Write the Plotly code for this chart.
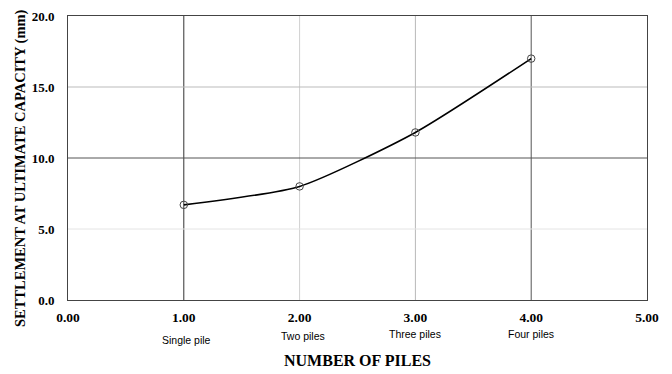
import plotly.graph_objects as go

# Settlement at ultimate capacity for pile groups
num_piles = [1, 2, 3, 4]
settlement_mm = [6.7, 8.0, 11.8, 17.0]
group_names = ["Single pile", "Two piles", "Three piles", "Four piles"]

x_ticks = [0, 1, 2, 3, 4, 5]
y_ticks = [0, 5, 10, 15, 20]

serif_bold = "Liberation Serif"

fig = go.Figure()

fig.add_trace(go.Scatter(
    x=num_piles, y=settlement_mm,
    mode="lines+markers",
    line=dict(color="black", width=1.6, shape="spline", smoothing=0.6),
    marker=dict(symbol="circle-open", size=7.5, color="#444444", line=dict(width=1)),
    showlegend=False,
    hoverinfo="skip",
))

# grid lines with the varying weights of the original sheet
v_grid = {1: "#333333", 2: "#d0d0d0", 3: "#b8b8b8", 4: "#555555"}
h_grid = {5: "#e4e4e4", 10: "#555555", 15: "#bbbbbb"}
shapes = []
for xv, c in v_grid.items():
    shapes.append(dict(type="line", xref="x", yref="y", x0=xv, x1=xv, y0=0, y1=20,
                       line=dict(color=c, width=1), layer="below"))
for yv, c in h_grid.items():
    shapes.append(dict(type="line", xref="x", yref="y", x0=0, x1=5, y0=yv, y1=yv,
                       line=dict(color=c, width=1), layer="below"))

# group names staggered under the tick labels (paper fraction, pixel shift)
label_y = [-0.141, -0.127, -0.121, -0.12]
label_dx = [3, 3, 0, 0]
annotations = []
for xv, name, ly, dx in zip(num_piles, group_names, label_y, label_dx):
    annotations.append(dict(x=xv, y=ly, xref="x", yref="paper", text=name, showarrow=False,
                            yanchor="middle", xshift=dx,
                            font=dict(family="Liberation Sans", size=10.5, color="black")))

annotations.append(dict(
    x=-0.081, y=0.465, xref="paper", yref="paper", textangle=-90,
    text="<b>SETTLEMENT AT ULTIMATE CAPACITY (mm)</b>", showarrow=False,
    xanchor="center", yanchor="middle",
    font=dict(family=serif_bold, size=14.5, color="black"),
))

fig.update_layout(
    width=672, height=374,
    margin=dict(l=68, r=25, t=16, b=74, autoexpand=False),
    paper_bgcolor="white", plot_bgcolor="white",
    shapes=shapes,
    annotations=annotations,
    xaxis=dict(
        range=[0, 5], tickvals=x_ticks,
        ticktext=[f"<b>{v:.2f}</b>" for v in x_ticks],
        tickfont=dict(family=serif_bold, size=13.5, color="black"),
        showgrid=False, zeroline=False, automargin=False,
        showline=True, linecolor="#444444", linewidth=1, mirror=True,
        ticks="outside", ticklen=5, tickcolor="rgba(0,0,0,0)",
        title=dict(text="<b>NUMBER OF PILES</b>",
                   font=dict(family=serif_bold, size=16, color="black"), standoff=30),
    ),
    yaxis=dict(
        range=[0, 20], tickvals=y_ticks,
        ticktext=[f"<b>{v:.1f}</b>" for v in y_ticks],
        tickfont=dict(family=serif_bold, size=13, color="black"),
        showgrid=False, zeroline=False, automargin=False,
        showline=True, linecolor="#444444", linewidth=1, mirror=True,
        ticks="outside", ticklen=10, tickcolor="rgba(0,0,0,0)",
    ),
)

fig.write_html("out.html")
